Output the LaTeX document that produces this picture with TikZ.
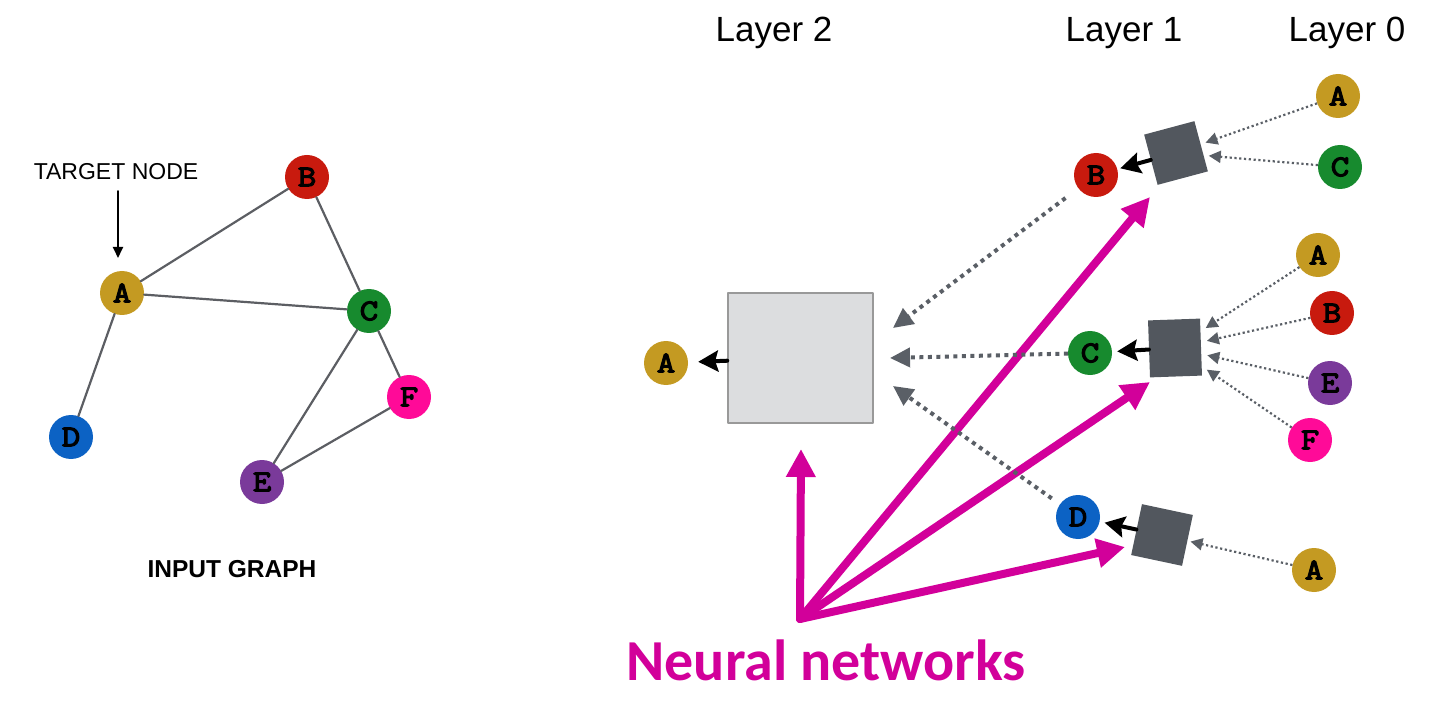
\documentclass[tikz,border=0pt]{standalone}
\usepackage{fontspec}
\setmainfont{Liberation Sans}
\newfontfamily\letterfont{Latin Modern Mono}[AutoFakeBold=4, FakeStretch=1.2]
\newfontfamily\nnfont{Carlito}
\usetikzlibrary{arrows.meta}

\definecolor{colA}{HTML}{C49A22}
\definecolor{colB}{HTML}{C81A0E}
\definecolor{colC}{HTML}{178A2E}
\definecolor{colD}{HTML}{0C62C4}
\definecolor{colE}{HTML}{7A3A9A}
\definecolor{colF}{HTML}{FF0A98}
\definecolor{aggdark}{HTML}{52575E}
\definecolor{agglight}{HTML}{DCDDDF}
\definecolor{dotgray}{HTML}{5A5F66}
\definecolor{edgegray}{HTML}{5C5E63}
\definecolor{nnmagenta}{HTML}{D2009A}

\begin{document}
\begin{tikzpicture}[x=1pt, y=-1pt, line cap=round, line join=round,
    gnode/.style={circle, minimum size=44pt, inner sep=0pt, font=\letterfont\bfseries\fontsize{30}{30}\selectfont},
    graphedge/.style={edgegray, line width=2.2pt},
    aggbox/.style={rectangle, fill=aggdark, minimum width=52pt, minimum height=52pt, inner sep=0pt},
    bigbox/.style={rectangle, fill=agglight, draw=gray!80, line width=1.5pt, minimum width=145pt, minimum height=130pt, inner sep=0pt},
    layer/.style={font=\fontsize{35}{35}\selectfont, anchor=base},
    msg/.style={dotgray, line width=2.2pt, line cap=butt, dash pattern=on 2.2pt off 2.6pt, -{Triangle[length=12pt,width=12pt]}},
    bigmsg/.style={dotgray, line width=4pt, line cap=butt, dash pattern=on 4pt off 4.5pt, -{Triangle[length=20pt,width=19pt]}},
    outarrow/.style={black, line width=4pt, -{Stealth[length=20pt,width=21pt,inset=3pt]}},
    nnarrow/.style={nnmagenta, line width=8pt, -{Triangle[length=28pt,width=28pt]}}]

    \useasboundingbox (0,0) rectangle (1434,708);

    % --- 1. Input graph ---
    \node[gnode, fill=colA] (g-a) at (122,293) {A};
    \node[gnode, fill=colB] (g-b) at (307,177) {B};
    \node[gnode, fill=colC] (g-c) at (369,311) {C};
    \node[gnode, fill=colD] (g-d) at (71,437) {D};
    \node[gnode, fill=colE] (g-e) at (262,482) {E};
    \node[gnode, fill=colF] (g-f) at (409,397) {F};
    \foreach \u/\v in {a/b,a/c,a/d,b/c,c/e,c/f,e/f}
        \draw[graphedge] (g-\u) -- (g-\v);

    \node[font=\fontsize{23}{23}\selectfont, anchor=base] (target) at (116,180) {TARGET NODE};
    \coordinate (target-tail) at (118,191);
    \coordinate (target-tip) at (118,258);
    \draw[black, line width=1.8pt, -{Triangle[length=11pt,width=10pt]}] (target-tail) -- (target-tip);
    \node[font=\bfseries\fontsize{24.5}{24.5}\selectfont, anchor=base] (input) at (232,577) {INPUT GRAPH};

    % --- 2. Layer labels ---
    \node[layer] (lab-2) at (774,42) {Layer 2};
    \node[layer] (lab-1) at (1124,42) {Layer 1};
    \node[layer] (lab-0) at (1347,42) {Layer 0};

    % --- 3. Layer 2 ---
    \node[bigbox] (agg-a) at (800.5,358) {};
    \node[gnode, fill=colA] (l2-a) at (666,363) {A};
    \draw[outarrow, shorten >=10pt] (agg-a) -- (l2-a);

    % --- 4. Layer 1 ---
    \node[gnode, fill=colB] (l1-b) at (1096,175) {B};
    \node[gnode, fill=colC] (l1-c) at (1090,353) {C};
    \node[gnode, fill=colD] (l1-d) at (1078,517) {D};
    \node[aggbox, rotate=15] (agg-b) at (1176,153) {};
    \node[aggbox, rotate=2, minimum height=57pt] (agg-c) at (1175,348) {};
    \node[aggbox, rotate=-12] (agg-d) at (1162,535) {};
    \draw[outarrow, shorten >=3pt] (agg-b) -- (l1-b);
    \draw[outarrow, shorten >=5pt] (agg-c) -- (l1-c);
    \draw[outarrow, shorten >=5pt] (agg-d) -- (l1-d);

    % --- 5. Layer 0 ---
    \node[gnode, fill=colA] (l0-a1) at (1338,96) {A};
    \node[gnode, fill=colC] (l0-c1) at (1340,167) {C};
    \node[gnode, fill=colA] (l0-a2) at (1318,255) {A};
    \node[gnode, fill=colB] (l0-b2) at (1332,313) {B};
    \node[gnode, fill=colE] (l0-e2) at (1330,383) {E};
    \node[gnode, fill=colF] (l0-f2) at (1310,440) {F};
    \node[gnode, fill=colA] (l0-a3) at (1314,570) {A};
    \foreach \n in {a1,c1} \draw[msg, shorten >=5pt] (l0-\n) -- (agg-b);
    \foreach \n in {a2,b2,e2,f2} \draw[msg, shorten >=6pt] (l0-\n) -- (agg-c);
    \draw[msg, shorten >=3pt] (l0-a3) -- (agg-d);

    % --- 6. Neural networks ---
    \coordinate (nn) at (800,619);
    \coordinate (nn-a) at (801,449);
    \coordinate (nn-b) at (1150,197);
    \coordinate (nn-c) at (1150,382);
    \coordinate (nn-d) at (1125,547);
    \foreach \t in {a,b,c,d} \draw[nnarrow] (nn) -- (nn-\t);
    \node[font=\nnfont\bfseries\fontsize{58}{58}\selectfont, text=nnmagenta, anchor=base] (nn-label) at (826,680) {Neural networks};

    % messages from layer 1 into the big box
    \coordinate (in-b) at (893,328);
    \coordinate (in-c) at (890,358);
    \coordinate (in-d) at (893,386);
    \draw[bigmsg, shorten <=16pt] (l1-b) -- (in-b);
    \draw[bigmsg] (l1-c) -- (in-c);
    \draw[bigmsg, shorten <=10pt] (l1-d) -- (in-d);
\end{tikzpicture}
\end{document}
